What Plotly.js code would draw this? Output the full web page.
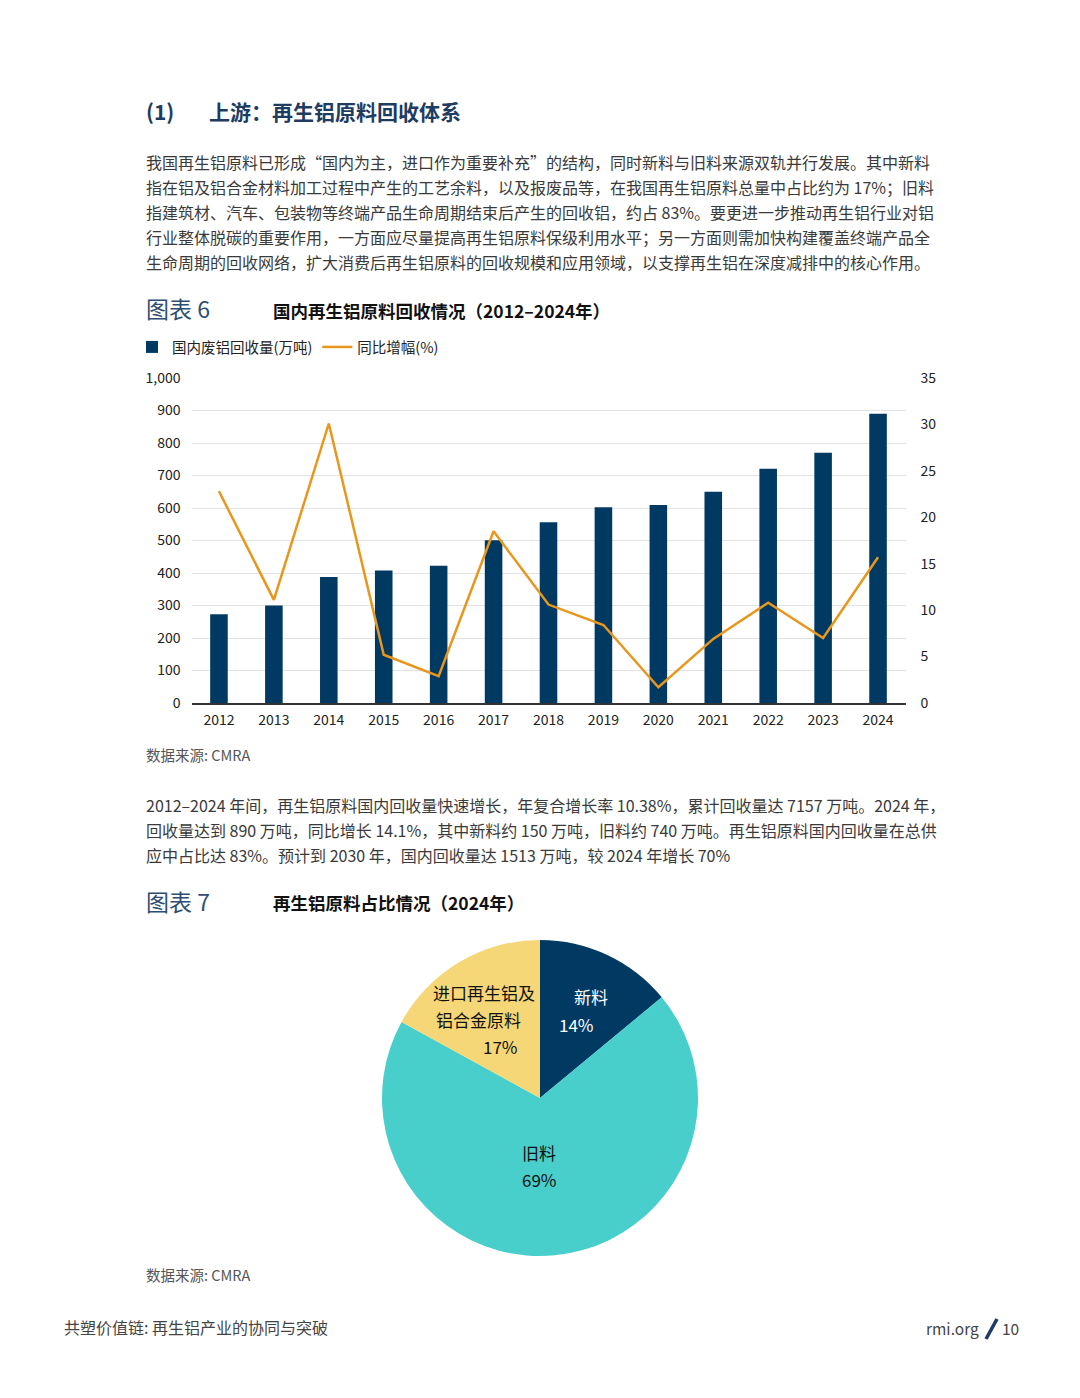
<!DOCTYPE html>
<html>
<head>
<meta charset="utf-8">
<script src="https://cdn.plot.ly/plotly-3.0.1.min.js"></script>
<style>html,body{margin:0;padding:0;background:#fff;}#chart{width:1080px;height:1398px;}</style>
</head>
<body>
<div id="chart"></div>
<script>
// ---- Data ----
const years = ['2012','2013','2014','2015','2016','2017','2018','2019','2020','2021','2022','2023','2024'];
const recovery = [273, 300, 388, 408, 422, 501, 556, 602, 609, 650, 721, 770, 890];
const growth = [22.8, 11.1, 30.1, 5.2, 2.9, 18.5, 10.6, 8.4, 1.7, 6.9, 10.8, 7.0, 15.7];
const barName = '国内废铝回收量(万吨)';
const lineName = '同比增幅(%)';
const pieLabels = ['新料', '旧料', '进口再生铝及<br>铝合金原料'];
const pieValues = [14, 69, 17];

// ---- Layout helpers ----
const W = 1080, H = 1398;
const px = x => x / W;
const py = y => 1 - y / H;
const FONT = '"Noto Sans CJK SC", "Noto Sans", sans-serif';
const NAVY = '#003A63';

function txt(x, y, text, size, color, opts) {
  return Object.assign({
    xref: 'paper', yref: 'paper', x: px(x), y: py(y - 1), text: text,
    showarrow: false, xanchor: 'left', yanchor: 'middle', borderpad: 0,
    font: {family: FONT, size: size, color: color}
  }, opts || {});
}

const para1 = [
  '我国再生铝原料已形成“国内为主，进口作为重要补充”的结构，同时新料与旧料来源双轨并行发展。其中新料',
  '指在铝及铝合金材料加工过程中产生的工艺余料，以及报废品等，在我国再生铝原料总量中占比约为 17%；旧料',
  '指建筑材、汽车、包装物等终端产品生命周期结束后产生的回收铝，约占 83%。要更进一步推动再生铝行业对铝',
  '行业整体脱碳的重要作用，一方面应尽量提高再生铝原料保级利用水平；另一方面则需加快构建覆盖终端产品全',
  '生命周期的回收网络，扩大消费后再生铝原料的回收规模和应用领域，以支撑再生铝在深度减排中的核心作用。'
];
const para2 = [
  '2012–2024 年间，再生铝原料国内回收量快速增长，年复合增长率 10.38%，累计回收量达 7157 万吨。2024 年，',
  '回收量达到 890 万吨，同比增长 14.1%，其中新料约 150 万吨，旧料约 740 万吨。再生铝原料国内回收量在总供',
  '应中占比达 83%。预计到 2030 年，国内回收量达 1513 万吨，较 2024 年增长 70%'
];

const bold = (size, color) => ({family: FONT, size: size, color: color, weight: 700});
const annotations = [];
annotations.push(txt(145, 112, '(1)', 21, '#1d3c5f', {font: bold(21, '#1d3c5f')}));
annotations.push(txt(208, 112, '上游：再生铝原料回收体系', 21, '#1d3c5f', {font: bold(21, '#1d3c5f')}));
para1.forEach((l, i) => annotations.push(txt(145, 163 + i * 25, l, 16, '#3a3a3a')));
annotations.push(txt(145, 309, '图表 6', 23, '#2e4d72'));
annotations.push(txt(272, 311, '国内再生铝原料回收情况（2012–2024年）', 17.5, '#111', {font: bold(17.5, '#111')}));
annotations.push(txt(145, 756, '数据来源: CMRA', 14.5, '#555'));
para2.forEach((l, i) => annotations.push(txt(145, 806 + i * 25, l, 16, '#3a3a3a')));
annotations.push(txt(145, 902, '图表 7', 23, '#2e4d72'));
annotations.push(txt(272, 904, '再生铝原料占比情况（2024年）', 17.5, '#111', {font: bold(17.5, '#111')}));
annotations.push(txt(145, 1275, '数据来源: CMRA', 14.5, '#555'));
annotations.push(txt(63, 1328, '共塑价值链: 再生铝产业的协同与突破', 16, '#444'));
annotations.push(txt(980, 1329, 'rmi.org', 15.5, '#444', {xanchor: 'right'}));
annotations.push(txt(1001, 1329, '10', 15.5, '#444'));

// Pie labels built from data
const pl2 = pieLabels[2].split('<br>');
annotations.push(txt(591, 997, pieLabels[0], 17, '#ffffff', {xanchor: 'center'}));
annotations.push(txt(576, 1025, pieValues[0] + '%', 17, '#ffffff', {xanchor: 'center'}));
annotations.push(txt(539, 1153, pieLabels[1], 17, '#111', {xanchor: 'center'}));
annotations.push(txt(539, 1180, pieValues[1] + '%', 17, '#111', {xanchor: 'center'}));
annotations.push(txt(484, 993, pl2[0], 17, '#111', {xanchor: 'center'}));
annotations.push(txt(478, 1020, pl2[1], 17, '#111', {xanchor: 'center'}));
annotations.push(txt(500, 1047, pieValues[2] + '%', 17, '#111', {xanchor: 'center'}));

const shapes = [
  {type: 'line', xref: 'paper', yref: 'paper', x0: px(986), y0: py(1339), x1: px(997), y1: py(1319),
   line: {color: '#1b3a66', width: 3.5}}
];

const plotTop = 378, plotBottom = 703, plotLeft = 191.5, plotRight = 905.5;

const data = [
  {
    type: 'bar', x: years, y: recovery, name: barName,
    marker: {color: NAVY}, width: 0.32, xaxis: 'x', yaxis: 'y'
  },
  {
    type: 'scatter', mode: 'lines', x: years, y: growth, name: lineName,
    line: {color: '#E8961C', width: 2.5}, xaxis: 'x', yaxis: 'y2'
  },
  {
    type: 'pie', labels: pieLabels, values: pieValues, sort: false,
    direction: 'clockwise', rotation: 0, textinfo: 'none', showlegend: false,
    marker: {colors: [NAVY, '#48CFCB', '#F5D778'], line: {width: 0}},
    domain: {x: [px(382), px(698)], y: [py(1256), py(940)]}
  }
];

const layout = {
  width: W, height: H,
  margin: {l: 0, r: 0, t: 0, b: 0},
  paper_bgcolor: '#fff', plot_bgcolor: 'rgba(0,0,0,0)',
  font: {family: FONT, color: '#222'},
  showlegend: true,
  legend: {
    orientation: 'h', x: px(132), y: py(347), xanchor: 'left', yanchor: 'middle',
    font: {family: FONT, size: 14.5, color: '#222'}, bgcolor: 'rgba(0,0,0,0)',
    itemwidth: 30, traceorder: 'normal'
  },
  xaxis: {
    domain: [px(plotLeft), px(plotRight)], anchor: 'y', type: 'category',
    range: [-0.5, 12.5], showgrid: false, zeroline: false,
    showline: true, linecolor: '#333', linewidth: 1.5,
    ticks: '', tickfont: {family: FONT, size: 14, color: '#222'}, ticklabelstandoff: 4
  },
  yaxis: {
    domain: [py(plotBottom), py(plotTop)], anchor: 'x', range: [0, 1000], dtick: 100,
    tickformat: ',d', showgrid: true, gridcolor: '#e3e3e3', gridwidth: 1,
    zeroline: false, showline: false, ticks: '',
    tickfont: {family: FONT, size: 14, color: '#222'}, ticklabelstandoff: 10
  },
  yaxis2: {
    overlaying: 'y', side: 'right', anchor: 'x', range: [0, 35], dtick: 5,
    showgrid: false, zeroline: false, showline: false, ticks: '',
    tickfont: {family: FONT, size: 14, color: '#222'}, ticklabelstandoff: 14
  },
  annotations: annotations,
  shapes: shapes
};

Plotly.newPlot('chart', data, layout, {displayModeBar: false, staticPlot: true});
</script>
</body>
</html>
